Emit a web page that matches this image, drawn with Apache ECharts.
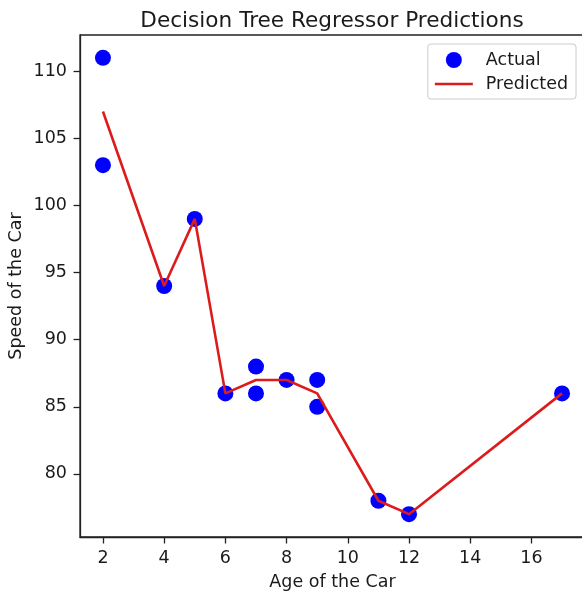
<!DOCTYPE html>
<html>
<head>
<meta charset="utf-8">
<script src="https://cdn.jsdelivr.net/npm/echarts@6/dist/echarts.min.js"></script>
<style>
html,body{margin:0;padding:0;background:#fff;}
#chart{width:582px;height:594px;}
</style>
</head>
<body>
<div id="chart"></div>
<script>
// Actual data
var actualAges = [5, 7, 8, 7, 2, 17, 2, 9, 4, 11, 12, 9, 6];
var actualSpeeds = [99, 86, 87, 88, 111, 86, 103, 87, 94, 78, 77, 85, 86];
// Predicted (decision tree) values, sorted by age
var predAges = [2, 4, 5, 6, 7, 8, 9, 11, 12, 17];
var predSpeeds = [107, 94, 99, 86, 87, 87, 86, 78, 77, 86];
// Tick labels
var xTicks = [2, 4, 6, 8, 10, 12, 14, 16];
var yTicks = [80, 85, 90, 95, 100, 105, 110];

var FONT = 'DejaVu Sans';
var TXT = '#1a1a1a';
var RED = '#dc1c1c';

var chart = echarts.init(document.getElementById('chart'), null, {renderer: 'canvas'});
chart.setOption({
  animation: false,
  backgroundColor: '#ffffff',
  textStyle: {fontFamily: FONT},
  title: {
    text: 'Decision Tree Regressor Predictions',
    left: 327, top: 5, textAlign: 'center',
    textStyle: {fontFamily: FONT, fontSize: 21.6, fontWeight: 'normal', color: TXT}
  },
  grid: {
    left: 80, top: 35, width: 505, height: 502,
    containLabel: false,
    outerBoundsMode: 'none',
    show: true, borderColor: '#222', borderWidth: 1.3, backgroundColor: 'transparent'
  },
  legend: {
    orient: 'vertical',
    right: 6, top: 44,
    padding: [7, 8, 6, 7],
    itemWidth: 38, itemHeight: 16, itemGap: 6,
    borderColor: '#cccccc', borderWidth: 1, borderRadius: 3,
    backgroundColor: '#ffffff',
    textStyle: {fontFamily: FONT, fontSize: 17.5, color: TXT, padding: [0, 0, 0, 8]},
    data: [
      {name: 'Actual', icon: 'circle'},
      {name: 'Predicted', icon: 'path://M0,0 L38,0 L38,2.6 L0,2.6 Z', itemStyle: {color: RED}}
    ]
  },
  xAxis: {
    type: 'value', min: 1.25, max: 17.75,
    name: 'Age of the Car', nameLocation: 'middle', nameGap: 36,
    nameTextStyle: {fontFamily: FONT, fontSize: 17.5, color: TXT},
    axisLine: {show: true, lineStyle: {color: '#222', width: 1.3}},
    axisTick: {show: true, length: 6.5, lineStyle: {color: '#222', width: 1.3}, customValues: xTicks},
    axisLabel: {fontFamily: FONT, fontSize: 17.5, color: TXT, margin: 12, customValues: xTicks},
    splitLine: {show: false}
  },
  yAxis: {
    type: 'value', min: 75.3, max: 112.7,
    name: 'Speed of the Car', nameLocation: 'middle', nameGap: 55,
    nameMoveOverlap: false,
    nameTextStyle: {fontFamily: FONT, fontSize: 17.5, color: TXT},
    axisLine: {show: true, lineStyle: {color: '#222', width: 1.3}},
    axisTick: {show: true, length: 6.5, lineStyle: {color: '#222', width: 1.3}, customValues: yTicks},
    axisLabel: {fontFamily: FONT, fontSize: 17.5, color: TXT, margin: 13, customValues: yTicks},
    splitLine: {show: false}
  },
  series: [
    {
      name: 'Actual',
      type: 'scatter',
      symbol: 'circle',
      symbolSize: 16,
      itemStyle: {color: '#0000ff', opacity: 1},
      data: actualAges.map(function (a, i) { return [a, actualSpeeds[i]]; }),
      z: 2
    },
    {
      name: 'Predicted',
      type: 'line',
      symbol: 'none',
      lineStyle: {color: RED, width: 2.6},
      itemStyle: {color: RED},
      data: predAges.map(function (a, i) { return [a, predSpeeds[i]]; }),
      z: 3
    }
  ]
});
</script>
</body>
</html>
